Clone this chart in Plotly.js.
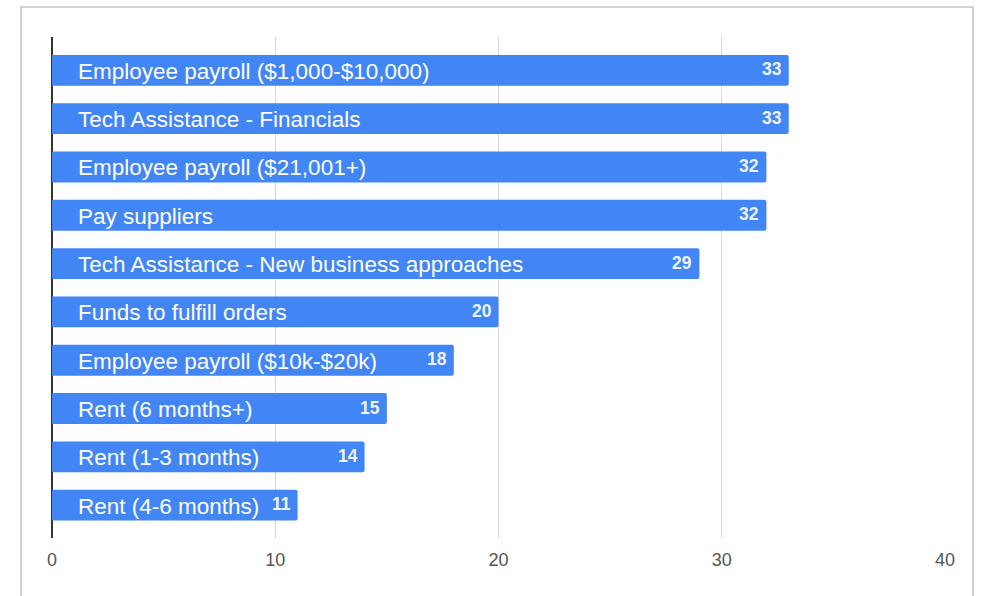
<!DOCTYPE html>
<html>
<head>
<meta charset="utf-8">
<script src="https://cdn.plot.ly/plotly-3.0.1.min.js"></script>
<style>html,body{margin:0;padding:0;background:#fff;}#chart{width:987px;height:596px;}</style>
</head>
<body>
<div id="chart"></div>
<script>
const categories = [
  "Employee payroll ($1,000-$10,000)",
  "Tech Assistance - Financials",
  "Employee payroll ($21,001+)",
  "Pay suppliers",
  "Tech Assistance - New business approaches",
  "Funds to fulfill orders",
  "Employee payroll ($10k-$20k)",
  "Rent (6 months+)",
  "Rent (1-3 months)",
  "Rent (4-6 months)"
];
const values = [33, 33, 32, 32, 29, 20, 18, 15, 14, 11];
const xTicks = [0, 10, 20, 30, 40];

const FONT = "Arial, 'Liberation Sans', sans-serif";

const trace = {
  type: "bar",
  orientation: "h",
  x: values,
  y: categories,
  marker: { color: "#4285F4", line: { width: 0 }, cornerradius: 2 },
  width: 0.64,
  hoverinfo: "none"
};

const annotations = [];
categories.forEach((c, i) => {
  annotations.push({
    x: 0, y: c, xref: "x", yref: "y",
    text: c, showarrow: false,
    xanchor: "left", yanchor: "middle", xshift: 24, yshift: -1,
    font: { family: FONT, size: 22.5, color: "#ffffff" }
  });
  annotations.push({
    x: values[i], y: c, xref: "x", yref: "y",
    text: "<b>" + values[i] + "</b>", showarrow: false,
    xanchor: "right", yanchor: "middle", xshift: -5, yshift: 1,
    font: { family: FONT, size: 17.5, color: "#eef3fe" }
  });
});

const layout = {
  width: 987, height: 596,
  margin: { l: 52, r: 42, t: 37, b: 58, pad: 0 },
  paper_bgcolor: "#ffffff",
  plot_bgcolor: "#ffffff",
  showlegend: false,
  font: { family: FONT },
  xaxis: {
    range: [0, 40],
    tickvals: xTicks,
    ticktext: xTicks.map(String),
    showgrid: true, gridcolor: "#d9d9d9", gridwidth: 1,
    zeroline: true, zerolinecolor: "#333333", zerolinewidth: 1.5,
    showline: false,
    ticks: "",
    ticklabelstandoff: 9,
    tickfont: { family: FONT, size: 18, color: "#555555" },
    fixedrange: true
  },
  yaxis: {
    type: "category",
    categoryorder: "array",
    categoryarray: categories,
    range: [9.68, -0.69],
    showticklabels: false,
    showgrid: false, zeroline: false, showline: false,
    ticks: "",
    fixedrange: true
  },
  annotations: annotations,
  shapes: [
    { type: "rect", xref: "paper", yref: "paper",
      x0: -0.0347, x1: 1.0313, y0: -0.2, y1: 1.06,
      line: { color: "#c4c4c4", width: 1.5 }, fillcolor: "rgba(0,0,0,0)", layer: "below" }
  ]
};

Plotly.newPlot("chart", [trace], layout, { displayModeBar: false, staticPlot: true });
</script>
</body>
</html>
